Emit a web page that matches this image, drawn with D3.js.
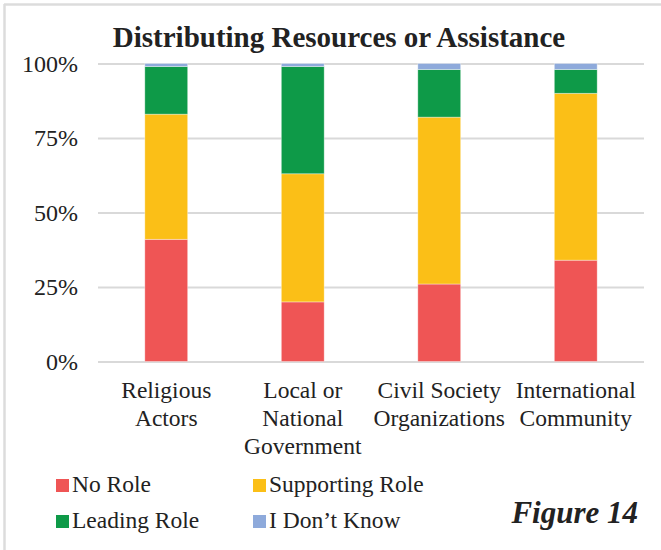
<!DOCTYPE html>
<html>
<head>
<meta charset="utf-8">
<script src="https://cdn.jsdelivr.net/npm/d3@7"></script>
<style>
  html, body { margin: 0; padding: 0; background: #fff; }
  svg { display: block; }
  text { font-family: "Liberation Serif", "Times New Roman", serif; fill: #222; }
</style>
</head>
<body>
<svg id="chart" width="661" height="550"></svg>
<script>
// Actors whose role was rated
const categories = ["Religious Actors", "Local or National Government", "Civil Society Organizations", "International Community"];
const categoryLines = [["Religious", "Actors"], ["Local or", "National", "Government"], ["Civil Society", "Organizations"], ["International", "Community"]];

// Share of responses per role (percent)
const roles = ["No Role", "Supporting Role", "Leading Role", "I Don\u2019t Know"];
const noRole = [41, 20, 26, 34];
const supportingRole = [42, 43, 56, 56];
const leadingRole = [16, 36, 16, 8];
const dontKnow = [1, 1, 2, 2];

const roleColors = ["#EF5555", "#FBBF17", "#0E9A48", "#8EAADB"];
const yTicks = [0, 25, 50, 75, 100];

const title = "Distributing Resources or Assistance";
const figureLabel = "Figure 14";

const rows = categories.map((c, i) => ({
  category: c,
  "No Role": noRole[i],
  "Supporting Role": supportingRole[i],
  "Leading Role": leadingRole[i],
  "I Don\u2019t Know": dontKnow[i]
}));

const svg = d3.select("#chart");
const plot = { left: 98, right: 644, top: 63.5, bottom: 361.5 };

// Page frame (left and top rules)
svg.append("line").attr("x1", 4.5).attr("x2", 4.5).attr("y1", 4).attr("y2", 550)
  .attr("stroke", "#dcdcdc").attr("stroke-width", 2.5);
svg.append("line").attr("x1", 4).attr("x2", 661).attr("y1", 4.5).attr("y2", 4.5)
  .attr("stroke", "#dcdcdc").attr("stroke-width", 2.5);

// Title
svg.append("text")
  .attr("x", 339).attr("y", 47)
  .attr("text-anchor", "middle")
  .style("font-size", "29px").style("font-weight", "bold")
  .text(title);

const x = d3.scaleBand()
  .domain(categories)
  .range([plot.left, plot.right])
  .paddingInner(0.686)
  .paddingOuter(0.343);

const y = d3.scaleLinear().domain([0, 100]).range([plot.bottom, plot.top]);

// Value axis with gridlines
const yAxis = svg.append("g")
  .attr("transform", `translate(${plot.left},0)`)
  .call(d3.axisLeft(y).tickValues(yTicks).tickFormat(d => d + "%")
    .tickSizeInner(-(plot.right - plot.left)).tickSizeOuter(0).tickPadding(20));
yAxis.select(".domain").remove();
yAxis.selectAll(".tick line").attr("stroke", "#d9d9d9").attr("stroke-width", 2);
yAxis.selectAll(".tick text")
  .attr("x", -20)
  .style("font-size", "24px").style("font-family", "Liberation Serif, serif").attr("fill", "#222");

// Stacked bars
const stack = d3.stack().keys(roles);
const series = stack(rows);

svg.append("g").selectAll("g")
  .data(series)
  .join("g")
  .attr("fill", (d, i) => roleColors[i])
  .selectAll("rect")
  .data(d => d)
  .join("rect")
  .attr("x", d => x(d.data.category))
  .attr("width", x.bandwidth())
  .attr("y", d => y(d[1]))
  .attr("height", d => y(d[0]) - y(d[1]))
  .attr("stroke", "#ffffff").attr("stroke-opacity", 0.45).attr("stroke-width", 0.8);

// Category axis with wrapped labels
const xAxis = svg.append("g")
  .attr("transform", `translate(0,${plot.bottom})`)
  .call(d3.axisBottom(x).tickSize(0).tickFormat(""));
xAxis.select(".domain").remove();
xAxis.selectAll(".tick").each(function (d, i) {
  const t = d3.select(this).append("text")
    .attr("text-anchor", "middle")
    .attr("fill", "#222")
    .style("font-size", "23.5px").style("font-family", "Liberation Serif, serif");
  categoryLines[i].forEach((line, j) => {
    t.append("tspan").attr("x", 0).attr("y", 36 + j * 28).text(line);
  });
});

// Legend
const legendPos = [[56, 492], [253, 492], [56, 528], [253, 528]];
const legend = svg.append("g");
roles.forEach((r, i) => {
  const [lx, ly] = legendPos[i];
  legend.append("rect").attr("x", lx).attr("y", ly - 13).attr("width", 13).attr("height", 13)
    .attr("fill", roleColors[i]);
  legend.append("text").attr("x", lx + 16).attr("y", ly)
    .style("font-size", "23.5px").text(r);
});

// Figure number
svg.append("text")
  .attr("x", 638).attr("y", 523)
  .attr("text-anchor", "end")
  .style("font-size", "31px").style("font-weight", "bold").style("font-style", "italic")
  .text(figureLabel);
</script>
</body>
</html>
